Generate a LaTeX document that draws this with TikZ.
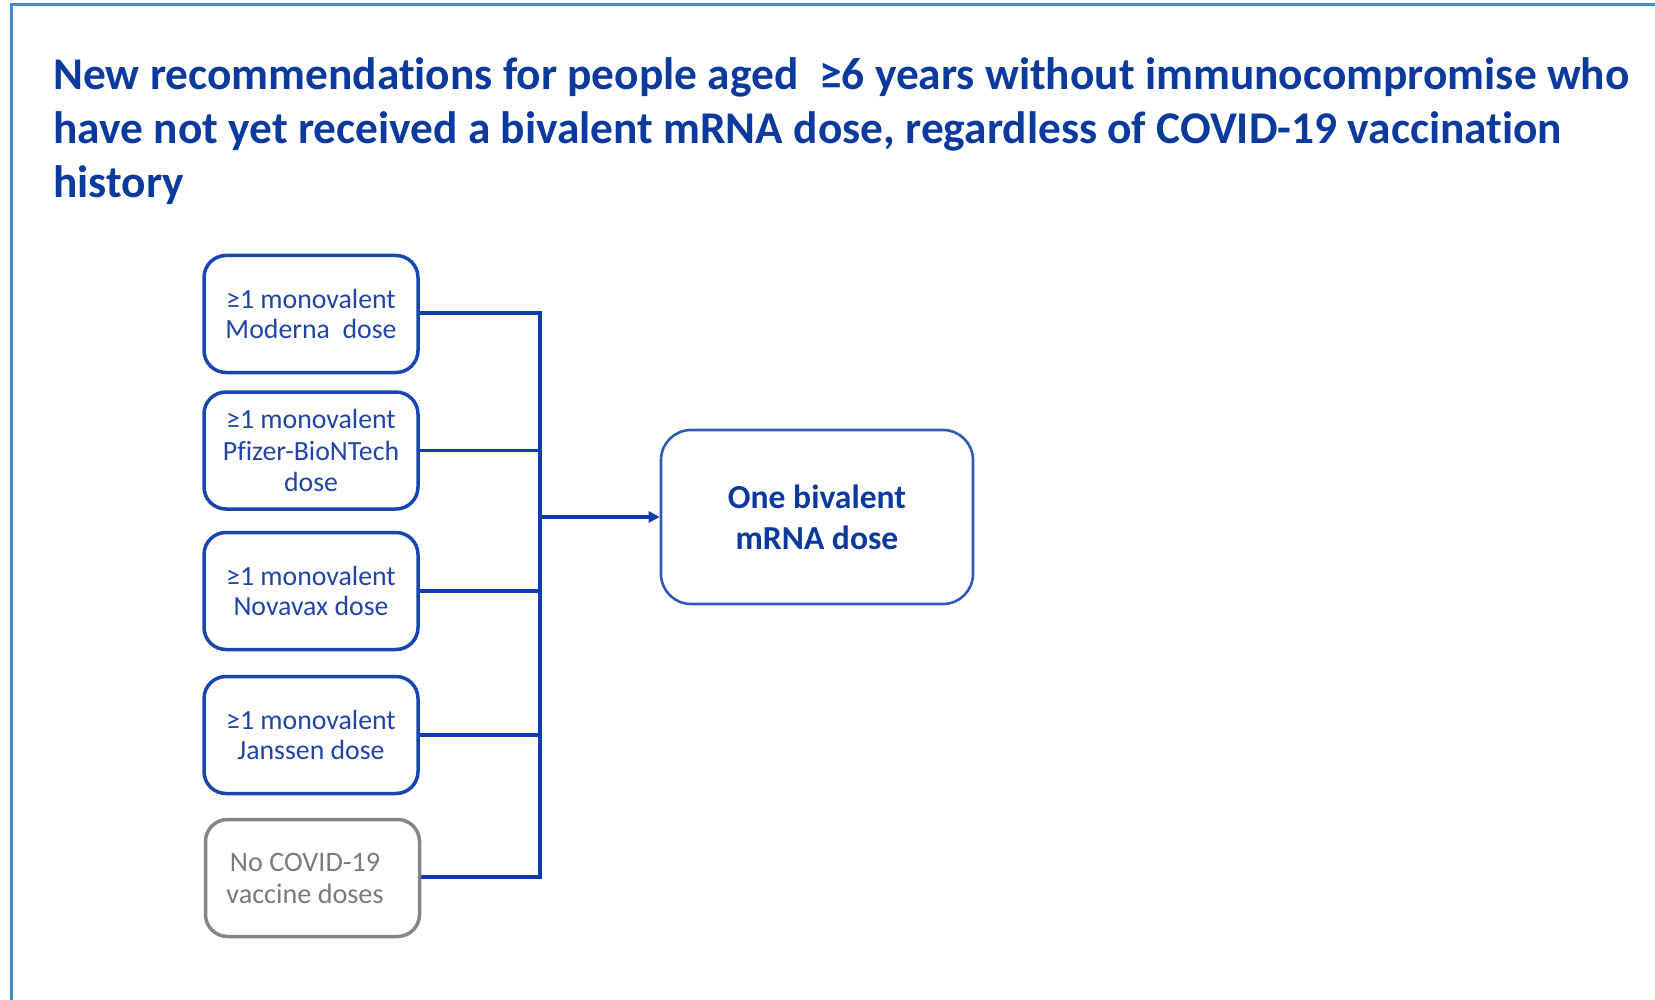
\documentclass[tikz,border=0pt]{standalone}
\usepackage{fontspec}
\setmainfont{Carlito}[Ligatures=NoCommon]
\usetikzlibrary{arrows.meta}
\definecolor{titleblue}{HTML}{0B3A9E}
\definecolor{boxblue}{HTML}{1846B0}
\definecolor{boxtext}{HTML}{2145A6}
\definecolor{linkblue}{HTML}{0F3FA6}
\definecolor{framecol}{HTML}{3D8BD0}
\definecolor{greyline}{HTML}{858585}
\definecolor{greytext}{HTML}{7A7A7A}
\begin{document}
\begin{tikzpicture}[x=0.5pt,y=-0.5pt,
  titleline/.style={anchor=base west, inner sep=0pt, text=titleblue,
    font=\fontsize{22.7pt}{26pt}\selectfont\bfseries},
  dosebox/.style={draw=boxblue, line width=1.75pt, rounded corners=11pt,
    minimum width=107pt, minimum height=58.5pt, inner sep=0pt, align=center,
    text=boxtext, font=\fontsize{13.9pt}{15pt}\selectfont},
  nonebox/.style={dosebox, draw=greyline, text=greytext,
    font=\fontsize{14.1pt}{16pt}\selectfont},
  resultbox/.style={draw=boxblue!90!white, line width=1.3pt, rounded corners=15pt,
    minimum width=156pt, minimum height=87pt, inner sep=0pt, align=center,
    text=titleblue, font=\fontsize{16.8pt}{20.5pt}\selectfont\bfseries},
  link/.style={draw=linkblue, line width=1.75pt},
  arrowlink/.style={link, -{Triangle[length=5.5pt,width=5.5pt]}}]
\useasboundingbox (0,0) rectangle (1655,1000);

% outer frame (only the top and left edges fall inside the page)
\draw[framecol, line width=1.5pt] (11.6,1010) -- (11.6,4.2) -- (1665,4.2);

% heading
\node[titleline] (t1) at (53,90) {New recommendations for people aged\ \ ≥6 years without immunocompromise who};
\node[titleline] (t2) at (53,144) {have not yet received a bivalent mRNA dose, regardless of COVID-19 vaccination};
\node[titleline] (t3) at (53,198) {history};

% prior-dose categories
\node[dosebox] (b1) at (311,314) {≥1 monovalent\\Moderna\ \ dose};
\node[dosebox, font=\fontsize{13.9pt}{15.8pt}\selectfont] (b2) at (311,450.5) {≥1 monovalent\\Pfizer-BioNTech\\dose};
\node[dosebox] (b3) at (311,591) {≥1 monovalent\\Novavax dose};
\node[dosebox] (b4) at (311,735) {≥1 monovalent\\Janssen dose};
\node[nonebox] (b5) at (312.5,878) {\hspace*{-7.5pt}No COVID-19\\\hspace*{-7.5pt}vaccine doses};

% recommendation
\node[resultbox] (rec) at (817,517) {One bivalent\\mRNA dose};

% collecting bus
\coordinate (jtop) at (540,313);
\coordinate (jbot) at (540,877);
\draw[link, line join=miter] (b1.east |- jtop) -- (jtop) -- (jbot) -- (b5.east |- jbot);
\draw[link] (b2.east) -- (b2.east -| jtop);
\draw[link] (b3.east) -- (b3.east -| jtop);
\draw[link] (b4.east) -- (b4.east -| jtop);
\draw[arrowlink] (rec.west -| jtop) -- (rec.west);
\end{tikzpicture}
\end{document}
